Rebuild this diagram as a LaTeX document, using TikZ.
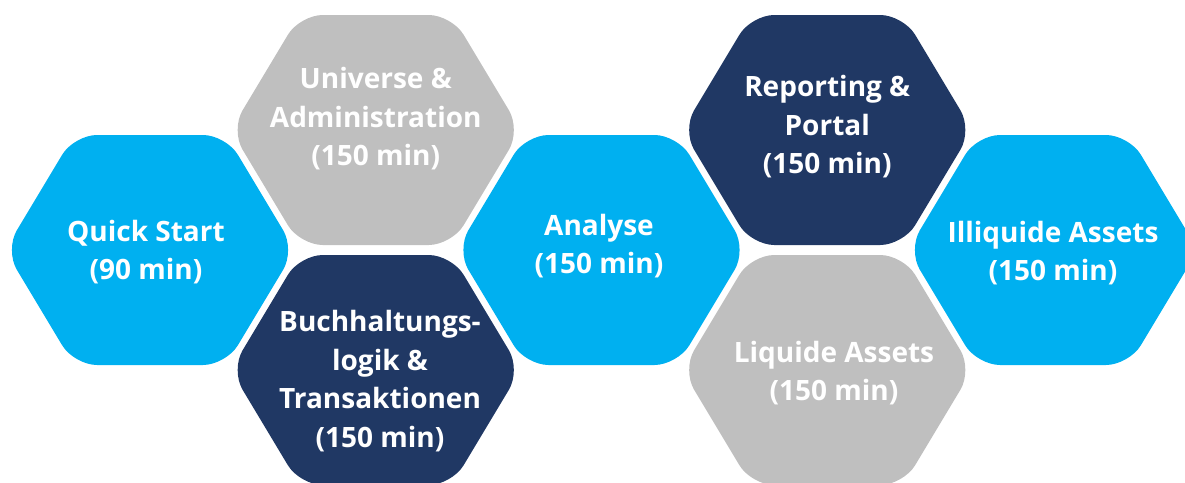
\documentclass[tikz,border=0pt]{standalone}
\usepackage{fontspec}
\setmainfont{Open Sans}
\definecolor{hexblue}{HTML}{00B0F0}
\definecolor{hexnavy}{HTML}{203864}
\definecolor{hexgray}{HTML}{BFBFBF}
\tikzset{
  hexlabel/.style={text=white, font=\fontsize{28}{38.5}\selectfont\bfseries, align=center, inner sep=0pt},
  hexshape/.style={rounded corners=23pt},
}
\newcommand{\myhex}[3]{%
  \fill[hexshape, #3] (#1,#2-115) -- (#1+76,#2-115) -- (#1+145,#2) -- (#1+76,#2+115)
    -- (#1-76,#2+115) -- (#1-145,#2) -- (#1-76,#2-115) -- cycle;}
\begin{document}
\begin{tikzpicture}[x=1pt,y=-1pt]
\useasboundingbox (0,0) rectangle (1185,482);
\myhex{150}{250}{hexblue}
\myhex{375.75}{130}{hexgray}
\myhex{375.75}{370}{hexnavy}
\myhex{601.5}{250}{hexblue}
\myhex{827.25}{130}{hexnavy}
\myhex{827.25}{370}{hexgray}
\myhex{1053}{250}{hexblue}
\node[hexlabel] (qs) at (146,252) {Quick Start\\(90 min)};
\node[hexlabel] (ua) at (375.75,119) {Universe \&\\Administration\\(150 min)};
\node[hexlabel] (bl) at (380,381) {Buchhaltungs-\\logik \&\\Transaktionen\\(150 min)};
\node[hexlabel] (an) at (599,246) {Analyse\\(150 min)};
\node[hexlabel] (rp) at (827.25,127) {Reporting \&\\Portal\\(150 min)};
\node[hexlabel] (la) at (834,373) {Liquide Assets\\(150 min)};
\node[hexlabel] (ia) at (1053,253) {Illiquide Assets\\(150 min)};
\end{tikzpicture}
\end{document}
